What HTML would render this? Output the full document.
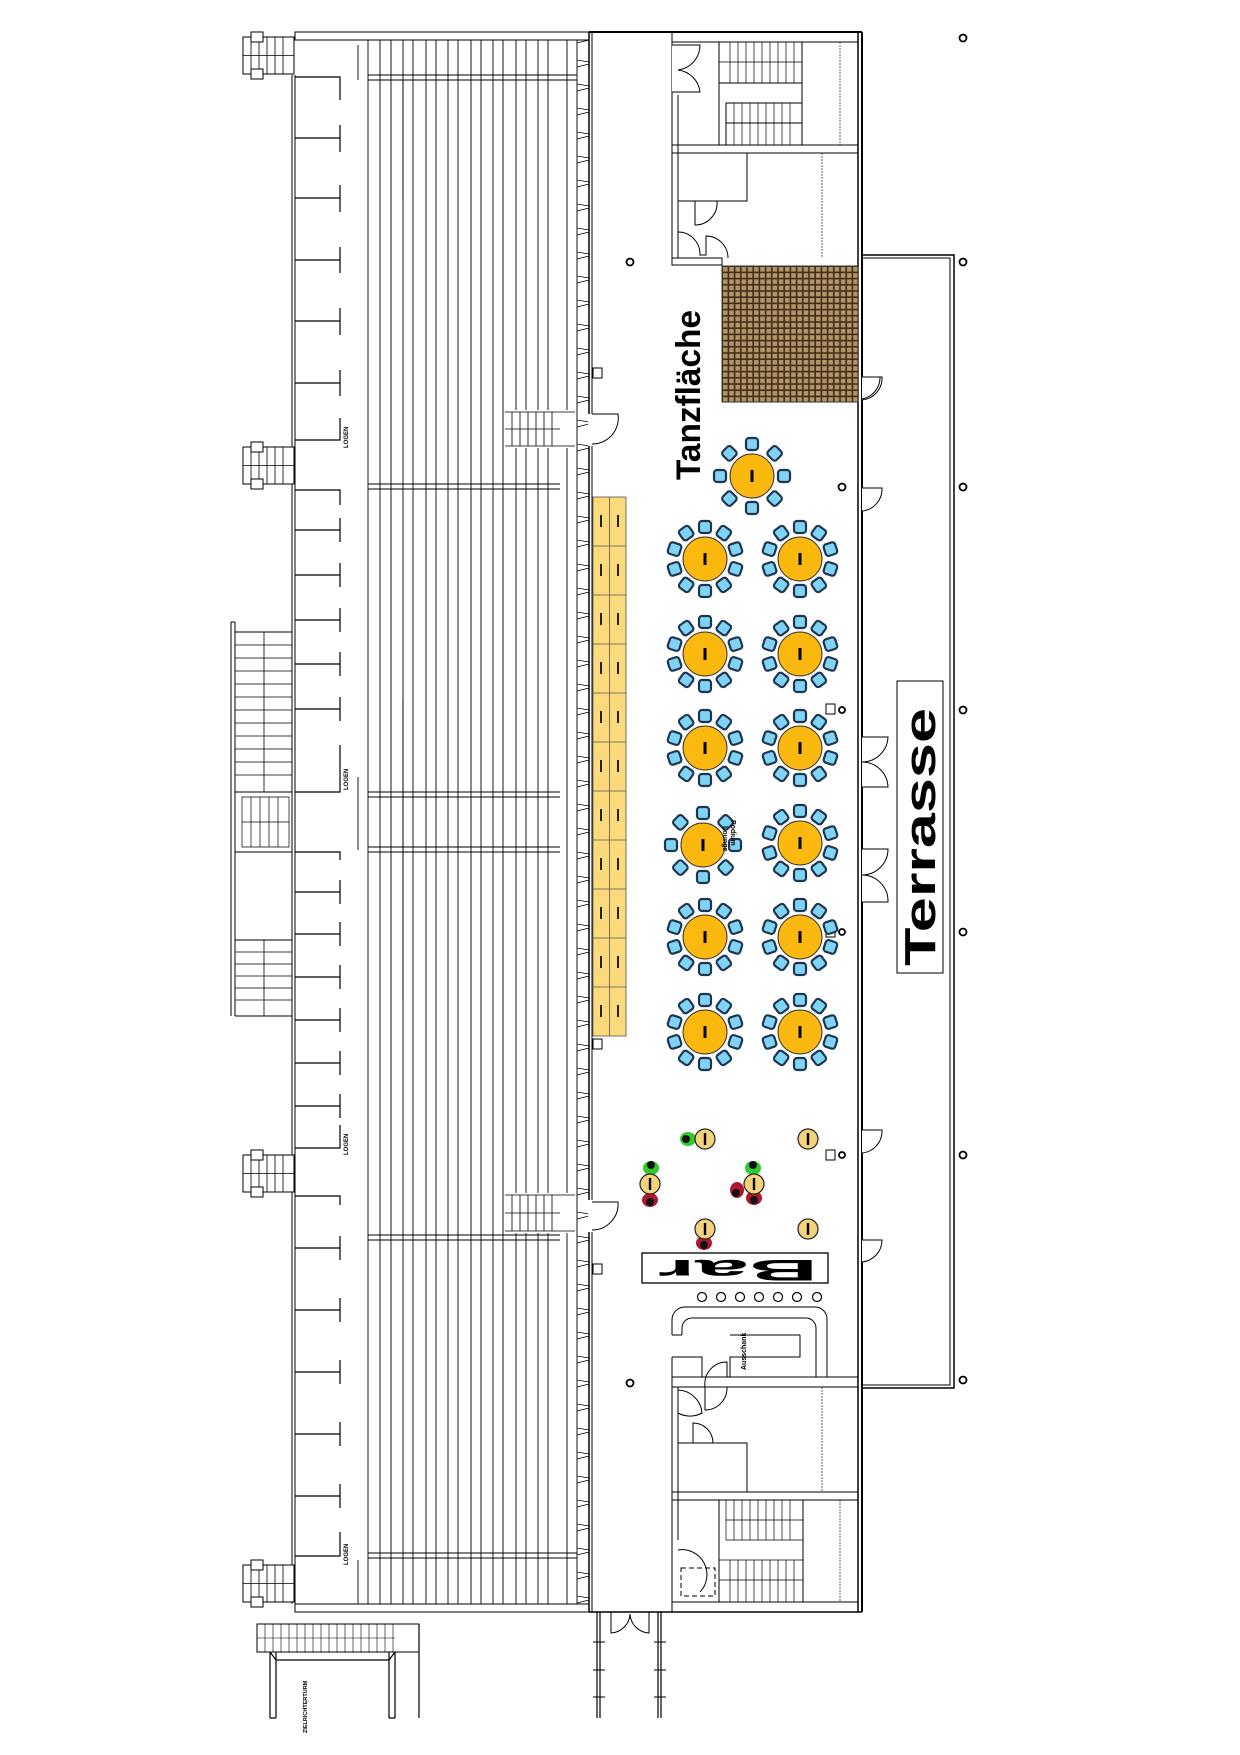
<!DOCTYPE html>
<html><head><meta charset="utf-8"><style>
html,body{margin:0;padding:0;background:#fff;}
svg{display:block;font-family:"Liberation Sans",sans-serif;}
</style></head><body>
<svg width="1240" height="1755" viewBox="0 0 1240 1755" xmlns="http://www.w3.org/2000/svg">
<defs>
<pattern id="grid" x="722" y="266" width="6.2" height="6.2" patternUnits="userSpaceOnUse">
<rect width="6.2" height="6.2" fill="#3f2e18"/><rect x="1" y="1" width="4.6" height="4.6" fill="#b39468"/>
</pattern>
<pattern id="seats" x="577" y="40" width="13" height="24" patternUnits="userSpaceOnUse">
<path d="M0 3 L12 0 M0 20 L12 22 M12 4 V18" stroke="#000" stroke-width="0.8" fill="none"/>
</pattern>
<g id="ch"><rect x="-6" y="-38" width="12" height="12" rx="3" fill="#7fd3f5" stroke="#1e3550" stroke-width="2.2"/></g>
<g id="t10">
<use href="#ch"/><use href="#ch" transform="rotate(36)"/><use href="#ch" transform="rotate(72)"/><use href="#ch" transform="rotate(108)"/><use href="#ch" transform="rotate(144)"/><use href="#ch" transform="rotate(180)"/><use href="#ch" transform="rotate(216)"/><use href="#ch" transform="rotate(252)"/><use href="#ch" transform="rotate(288)"/><use href="#ch" transform="rotate(324)"/>
<circle r="22" fill="#fbb80f" stroke="#333" stroke-width="1"/><rect x="-1.5" y="-6" width="3" height="12" fill="#000"/>
</g>
<g id="t8">
<use href="#ch"/><use href="#ch" transform="rotate(45)"/><use href="#ch" transform="rotate(90)"/><use href="#ch" transform="rotate(135)"/><use href="#ch" transform="rotate(180)"/><use href="#ch" transform="rotate(225)"/><use href="#ch" transform="rotate(270)"/><use href="#ch" transform="rotate(315)"/>
<circle r="22" fill="#fbb80f" stroke="#333" stroke-width="1"/><rect x="-1.5" y="-6" width="3" height="12" fill="#000"/>
</g>
<g id="st"><circle r="10" fill="#f3d27a" stroke="#222" stroke-width="1.2"/><rect x="-1.2" y="-6" width="2.4" height="12" fill="#000"/></g>
<g id="stairH"><rect x="0" y="0" width="51" height="37" fill="#fff" stroke="#000"/><path d="M0 18.5 H51 M8 0 V37 M16 0 V37 M24 0 V37 M32 0 V37 M40 0 V37" stroke="#000" stroke-width="0.8"/><rect x="8" y="-5" width="12" height="10" fill="#fff" stroke="#000"/><rect x="8" y="32" width="12" height="10" fill="#fff" stroke="#000"/></g>
</defs>

<g fill="none" stroke="#000" stroke-width="1">
<rect x="295" y="32" width="294" height="8"/>
<rect x="295" y="1604" width="294" height="8"/>
<line x1="292" y1="75" x2="292" y2="1604"/><line x1="295" y1="75" x2="295" y2="1604"/>
<g stroke-width="0.9">
<path d="M358 45 V80 M368 40 V1604 M380 40 V1604 M391 40 V1604 M403 40 V1604 M413 40 V1604 M426 40 V1604 M436 40 V1604 M448 40 V1604 M458 40 V1604 M471 40 V1604 M481 40 V1604 M493 40 V1604 M503 40 V1604 M516 40 V1604 M526 40 V1604 M538 40 V1604 M548 40 V1604 M567 40 V1604 M577 40 V1604"/>
<path d="M358 1560 V1604 M358 777 V850 M403 80 V200 M403 700 V1000"/>
<path d="M368 75 H577 M368 80 H577 M368 1558 H577 M368 1553 H577 M368 792 H560 M368 797 H560 M368 847 H560 M368 852 H560 M368 484 H560 M368 489 H560 M368 1235 H560 M368 1240 H560"/>
</g>
<rect x="505" y="410" width="70" height="38" fill="#fff" stroke="none"/>
<rect x="505" y="1193" width="70" height="40" fill="#fff" stroke="none"/>
<path d="M505 412 H575 M505 446 H575 M512 412 V446 M520 412 V446 M528 412 V446 M536 412 V446 M544 412 V446 M552 412 V446 M505 429 H560" stroke-width="0.8"/>
<path d="M505 1195 H575 M505 1231 H575 M512 1195 V1231 M520 1195 V1231 M528 1195 V1231 M536 1195 V1231 M544 1195 V1231 M552 1195 V1231 M505 1213 H560" stroke-width="0.8"/>
<rect x="577" y="40" width="12" height="1564" fill="url(#seats)" stroke="none"/>
<line x1="589" y1="32" x2="589" y2="1612" stroke-width="1.5"/><line x1="592" y1="32" x2="592" y2="1612"/>
<line x1="589" y1="32" x2="862" y2="32" stroke-width="2"/>
<line x1="589" y1="1612" x2="862" y2="1612" stroke-width="1.5"/>
<line x1="858" y1="32" x2="858" y2="1612" stroke-width="1.5"/><line x1="862" y1="32" x2="862" y2="1612" stroke-width="2"/>
<rect x="588" y="414" width="6" height="32" fill="#fff" stroke="none"/>
<path d="M592 414 H618 A26 26 0 0 1 592 444"/>
<rect x="588" y="1200" width="6" height="32" fill="#fff" stroke="none"/>
<path d="M592 1202 H618 A26 26 0 0 1 592 1230"/>
<g fill="#fff">
<path d="M862 377 H882 A22 22 0 0 1 862 400"/>
<path d="M862 488 H882 A22 22 0 0 1 862 511"/>
<path d="M862 737 H888 A26 26 0 0 1 862 762 A26 26 0 0 1 888 787 H862"/>
<path d="M862 849 H888 A26 26 0 0 1 862 875 A26 26 0 0 1 888 902 H862"/>
<path d="M862 1130 H882 A22 22 0 0 1 862 1153"/>
<path d="M862 1240 H882 A22 22 0 0 1 862 1262"/>
</g>
<path d="M862 255 H954 V1388 H862" stroke-width="1.5"/><path d="M862 258 H950 V1385 H862"/>
<rect x="672" y="32" width="186" height="10"/>
<rect x="672" y="145" width="186" height="8"/>
<rect x="672" y="258" width="50" height="7"/>
<path d="M672 42 V258 M678 95 V258"/>
<path d="M672 45 H700 A25 25 0 0 1 678 70 A25 25 0 0 1 700 92 H672" fill="#fff"/>
<rect x="719" y="42" width="83" height="103"/>
<path d="M719 83 H802 V103 H726 V145 M726 123 H802"/>
<path d="M730 42 V83 M738 42 V83 M746 42 V83 M754 42 V83 M762 42 V83 M770 42 V83 M778 42 V83 M786 42 V83 M794 42 V83 M734 103 V145 M742 103 V145 M750 103 V145 M758 103 V145 M766 103 V145 M774 103 V145 M782 103 V145 M790 103 V145 M719 62 H802" stroke-width="0.7"/>
<path d="M678 201 H747 V153 M695 201 V225 A22 22 0 0 0 717 201"/>
<path d="M678 232 A22 22 0 0 1 700 255 H706 V236 A22 22 0 0 1 728 258"/>
<path d="M822 153 V258 M840 42 V145" stroke-width="0.6" stroke-dasharray="2 1"/>
<rect x="722" y="266" width="136" height="136" fill="url(#grid)" stroke="#333"/>
<path d="M862 377 H880 A22 22 0 0 1 862 399" fill="#fff"/>
<rect x="672" y="1377" width="186" height="10"/>
<rect x="672" y="1492" width="186" height="8"/>
<rect x="672" y="1602" width="186" height="10"/>
<path d="M672 1387 V1602 M678 1387 V1540"/>
<path d="M678 1390 A25 25 0 0 1 702 1413 A25 25 0 0 1 678 1413"/>
<path d="M705 1387 A22 22 0 0 1 727 1362 V1377 M705 1387 V1410 A22 22 0 0 0 727 1387"/>
<path d="M678 1443 H747 V1492 M693 1443 V1423 A20 20 0 0 1 713 1443"/>
<rect x="719" y="1500" width="84" height="102"/>
<path d="M726 1500 V1540 H803 M719 1560 H803 M730 1560 V1602 M738 1560 V1602 M746 1560 V1602 M754 1560 V1602 M762 1560 V1602 M770 1560 V1602 M778 1560 V1602 M786 1560 V1602 M794 1560 V1602 M734 1500 V1540 M742 1500 V1540 M750 1500 V1540 M758 1500 V1540 M766 1500 V1540 M774 1500 V1540 M782 1500 V1540 M790 1500 V1540 M726 1520 H803 M719 1580 H803" stroke-width="0.7"/>
<rect x="681" y="1568" width="34" height="28" stroke-dasharray="5 3"/>
<path d="M678 1550 A25 25 0 0 1 700 1592" />
<path d="M822 1387 V1492 M840 1500 V1602" stroke-width="0.6" stroke-dasharray="2 1"/>
<path d="M672 1335 V1320 A13 13 0 0 1 685 1307 H815 A12 12 0 0 1 827 1319 V1377 M682 1335 V1328 A10 10 0 0 1 692 1318 H806 A10 10 0 0 1 816 1328 V1377 M730 1377 V1357 H800 V1335 M672 1335 H682 M730 1335 H800 M672 1357 H702 V1377 M672 1357 V1377"/>
<g stroke-width="1.2"><circle cx="702" cy="1297" r="4.5"/><circle cx="721" cy="1297" r="4.5"/><circle cx="740" cy="1297" r="4.5"/><circle cx="759" cy="1297" r="4.5"/><circle cx="778" cy="1297" r="4.5"/><circle cx="797" cy="1297" r="4.5"/><circle cx="817" cy="1297" r="4.5"/></g>
<rect x="642" y="1253" width="186" height="30" stroke-width="1.3"/>
<g stroke-width="1.8"><circle cx="630" cy="262" r="3.5"/><circle cx="630" cy="1383" r="3.5"/><circle cx="842" cy="487" r="3.5"/><circle cx="963" cy="38" r="3.5"/><circle cx="963" cy="262" r="3.5"/><circle cx="963" cy="487" r="3.5"/><circle cx="963" cy="710" r="3.5"/><circle cx="963" cy="932" r="3.5"/><circle cx="963" cy="1155" r="3.5"/><circle cx="963" cy="1380" r="3.5"/><circle cx="842" cy="710" r="3"/><circle cx="842" cy="932" r="3"/><circle cx="842" cy="1155" r="3"/></g>
<rect x="826" y="704" width="9" height="10"/><rect x="826" y="927" width="9" height="10"/><rect x="826" y="1150" width="9" height="10"/>
<rect x="593" y="368" width="9" height="10"/><rect x="593" y="1039" width="9" height="10"/><rect x="593" y="1264" width="9" height="10"/>
<g stroke-width="1.2">
<path d="M295 77 H340 V100 M295 138 H340 M340 125 V152 M295 198 H340 M340 185 V212 M295 260 H340 M340 247 V273 M295 321 H340 M340 308 V335 M295 383 H340 M340 370 V396 M295 440 H340 V418"/>
<path d="M295 490 H340 V505 M295 530 H340 M340 518 V542 M295 575 H340 M340 563 V587 M295 620 H340 M340 608 V632 M295 664 H340 M340 652 V676 M295 709 H340 M340 697 V721 M295 792 H340 V745"/>
<path d="M295 852 H340 V860 M295 892 H340 M340 880 V904 M295 934 H340 M340 922 V946 M295 977 H340 M340 965 V989 M295 1020 H340 M340 1008 V1032 M295 1063 H340 M340 1051 V1075 M295 1106 H340 M340 1094 V1118 M295 1148 H340 V1125"/>
<path d="M295 1196 H340 V1205 M295 1248 H340 M340 1236 V1260 M295 1310 H340 M340 1298 V1322 M295 1372 H340 M340 1360 V1384 M295 1434 H340 M340 1422 V1446 M295 1496 H340 M340 1484 V1508 M295 1556 H340 V1532"/>
</g>
<path d="M231 622 V1016 M235 622 V1016 M231 622 H235 M235 632 H292 M235 792 H292 M235 852 H292 M235 940 H292 M235 1016 H292"/>
<path d="M264 632 V792 M264 940 V1016" stroke-width="0.8"/>
<path d="M235 645 H292 M235 658 H292 M235 671 H292 M235 684 H292 M235 697 H292 M235 710 H292 M235 723 H292 M235 736 H292 M235 749 H292 M235 762 H292 M235 775 H292 M235 952 H292 M235 964 H292 M235 976 H292 M235 988 H292 M235 1000 H292" stroke-width="0.7"/>
<path d="M242 797 H289 V847 H242 Z M242 822 H289 M251 797 V847 M260 797 V847 M269 797 V847 M278 797 V847" stroke-width="0.7"/>
<path d="M597 1612 V1718 M600 1612 V1718 M658 1612 V1718 M661 1612 V1718" stroke-width="1.2"/>
<path d="M611 1612 V1633 A20 20 0 0 0 630 1614 A20 20 0 0 0 649 1633 V1612"/>
<path d="M593 1642 H605 M593 1670 H605 M593 1697 H605 M654 1642 H666 M654 1670 H666 M654 1697 H666"/>
<rect x="257" y="1624" width="162" height="28"/>
<path d="M265 1624 V1652 M273 1624 V1652 M281 1624 V1652 M289 1624 V1652 M297 1624 V1652 M305 1624 V1652 M313 1624 V1652 M321 1624 V1652 M329 1624 V1652 M337 1624 V1652 M345 1624 V1652 M353 1624 V1652 M361 1624 V1652 M369 1624 V1652 M377 1624 V1652 M385 1624 V1652 M393 1624 V1652 M257 1638 H395" stroke-width="0.6"/>
<path d="M419 1624 V1718 M270 1652 V1718 M276 1652 V1718 M389 1652 V1718 M395 1652 V1718 M270 1652 L276 1660 H389 L395 1652 M270 1718 H276 M389 1718 H395" stroke-width="1.2"/>
</g>
<use href="#stairH" x="243" y="37"/>
<use href="#stairH" x="243" y="447"/>
<use href="#stairH" x="243" y="1155"/>
<use href="#stairH" x="243" y="1565"/>

<rect x="593" y="497" width="33" height="539" fill="#fcd97a" stroke="#555" stroke-width="0.8"/>
<path d="M609.5 497 V1036 M593 546 H626 M593 595 H626 M593 644 H626 M593 693 H626 M593 742 H626 M593 791 H626 M593 840 H626 M593 889 H626 M593 938 H626 M593 987 H626" stroke="#555" stroke-width="0.8"/>
<g fill="#222">
<rect x="600" y="515" width="2" height="12"/><rect x="617" y="515" width="2" height="12"/><rect x="600" y="564" width="2" height="12"/><rect x="617" y="564" width="2" height="12"/><rect x="600" y="613" width="2" height="12"/><rect x="617" y="613" width="2" height="12"/><rect x="600" y="662" width="2" height="12"/><rect x="617" y="662" width="2" height="12"/><rect x="600" y="711" width="2" height="12"/><rect x="617" y="711" width="2" height="12"/><rect x="600" y="760" width="2" height="12"/><rect x="617" y="760" width="2" height="12"/><rect x="600" y="809" width="2" height="12"/><rect x="617" y="809" width="2" height="12"/><rect x="600" y="858" width="2" height="12"/><rect x="617" y="858" width="2" height="12"/><rect x="600" y="907" width="2" height="12"/><rect x="617" y="907" width="2" height="12"/><rect x="600" y="956" width="2" height="12"/><rect x="617" y="956" width="2" height="12"/><rect x="600" y="1005" width="2" height="12"/><rect x="617" y="1005" width="2" height="12"/>
</g>

<use href="#t8" x="752" y="476"/>
<use href="#t10" x="705" y="559"/><use href="#t10" x="800" y="559"/>
<use href="#t10" x="705" y="654"/><use href="#t10" x="800" y="654"/>
<use href="#t10" x="705" y="748"/><use href="#t10" x="800" y="748"/>
<use href="#t8" x="703" y="845"/><use href="#t10" x="800" y="843"/>
<use href="#t10" x="705" y="937"/><use href="#t10" x="800" y="937"/>
<use href="#t10" x="705" y="1032"/><use href="#t10" x="800" y="1032"/>

<g>
<ellipse cx="688" cy="1139" rx="8" ry="7" fill="#2ecc2e"/><circle cx="686" cy="1139" r="4" fill="#111"/>
<ellipse cx="651" cy="1168" rx="8" ry="7" fill="#2ecc2e"/><circle cx="651" cy="1165" r="4" fill="#111"/>
<ellipse cx="753" cy="1168" rx="8" ry="7" fill="#2ecc2e"/><circle cx="753" cy="1165" r="4" fill="#111"/>
<ellipse cx="650" cy="1200" rx="8" ry="7" fill="#b01830"/><circle cx="650" cy="1202" r="4" fill="#111"/>
<ellipse cx="754" cy="1198" rx="8" ry="7" fill="#b01830"/><circle cx="754" cy="1200" r="4" fill="#111"/>
<ellipse cx="737" cy="1190" rx="7" ry="8" fill="#b01830"/><circle cx="736" cy="1193" r="4" fill="#111"/>
<ellipse cx="704" cy="1243" rx="8" ry="7" fill="#b01830"/><circle cx="704" cy="1245" r="4" fill="#111"/>
</g>
<use href="#st" x="705" y="1139"/><use href="#st" x="808" y="1139"/>
<use href="#st" x="650" y="1184"/><use href="#st" x="754" y="1184"/>
<use href="#st" x="705" y="1229"/><use href="#st" x="808" y="1229"/>

<text transform="translate(700,480) rotate(-90)" font-size="34" font-weight="bold" textLength="170" lengthAdjust="spacingAndGlyphs">Tanzfläche</text>
<rect x="897" y="681" width="46" height="292" fill="#fff" stroke="#000" stroke-width="1"/>
<text transform="translate(935,966) rotate(-90)" font-size="44" font-weight="bold" textLength="258" lengthAdjust="spacingAndGlyphs">Terrasse</text>
<text transform="translate(818,1281) rotate(180)" font-size="30" font-weight="bold" textLength="160" lengthAdjust="spacingAndGlyphs" dominant-baseline="hanging">Bar</text>
<text transform="translate(746,1370) rotate(-90)" font-size="7" font-weight="bold">Ausschank</text>
<text transform="translate(723,826) rotate(90)" font-size="7" font-weight="bold">Lounge</text>
<text transform="translate(731,820) rotate(90)" font-size="7" font-weight="bold">Podium</text>
<text transform="translate(348,448) rotate(-90)" font-size="6" font-weight="bold">LOGEN</text>
<text transform="translate(348,790) rotate(-90)" font-size="6" font-weight="bold">LOGEN</text>
<text transform="translate(348,1155) rotate(-90)" font-size="6" font-weight="bold">LOGEN</text>
<text transform="translate(348,1565) rotate(-90)" font-size="6" font-weight="bold">LOGEN</text>
<text transform="translate(307,1733) rotate(-90)" font-size="5.5" font-weight="bold">ZIELRICHTERTURM</text>
</svg>
</body></html>
